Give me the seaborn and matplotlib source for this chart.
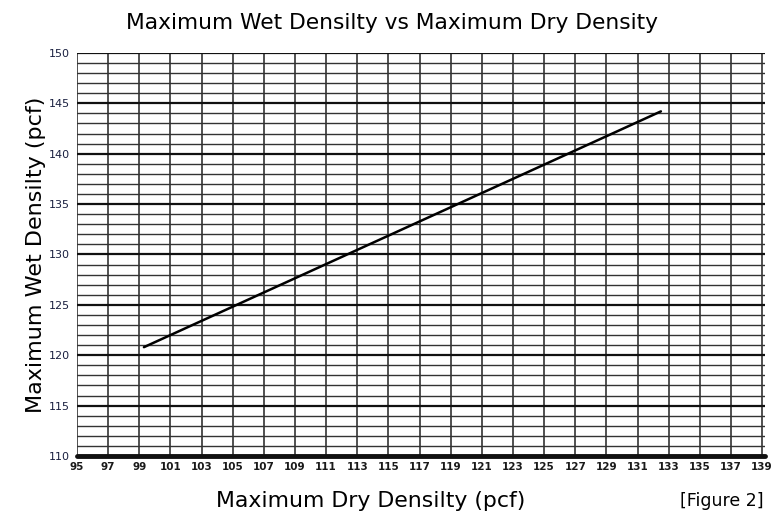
import matplotlib
matplotlib.use("Agg")
import matplotlib.pyplot as plt
import seaborn as sns
import numpy as np
import pandas as pd

dry_density = [99.3, 132.5]
wet_density = [120.8, 144.2]
x_ticks = list(range(95, 140, 2))
y_ticks = list(range(110, 151, 5))

sns.set_style("white")
plt.rcParams['font.family'] = ['DejaVu Sans']
plt.rcParams['text.color'] = 'black'
plt.rcParams['axes.labelcolor'] = 'black'

fig = plt.figure(figsize=(7.83, 5.19), dpi=100)
ax = fig.add_axes([0.0983, 0.1214, 0.879, 0.7766])

df = pd.DataFrame({"dry": dry_density, "wet": wet_density})

ax.set_xlim(95, 139.2)
ax.set_ylim(110, 150)

# grid lines
for v in x_ticks:
    ax.axvline(v, color="#222222", lw=1.1, zorder=1)
for h in range(110, 151):
    if h % 5 == 0:
        ax.axhline(h, color="#111111", lw=1.6, zorder=1)
    else:
        ax.axhline(h, color="#333333", lw=1.0, zorder=1)
ax.axhline(110, color="#111111", lw=3.5, zorder=2, clip_on=False)

sns.lineplot(data=df, x="dry", y="wet", ax=ax, color="black", lw=1.8, zorder=3)

ax.set_xticks(x_ticks)
ax.set_xticklabels([str(t) for t in x_ticks], fontsize=7.5, fontweight="bold", color="#1a1a1a")
ax.set_yticks(y_ticks)
ax.set_yticklabels([str(t) for t in y_ticks], fontsize=8, color="#1a2040")
ax.tick_params(axis="x", length=0, pad=4)
ax.tick_params(axis="y", length=4, width=1.2, color="#222222", pad=1)
for s in ax.spines.values():
    s.set_visible(False)

ax.set_xlabel("")
ax.set_ylabel("Maximum Wet Densilty (pcf)", fontsize=16, labelpad=2, color="black")
fig.text(0.5, 0.955, "Maximum Wet Densilty vs Maximum Dry Density", ha="center", va="center", fontsize=15.7, color="black")
fig.text(0.474, 0.035, "Maximum Dry Densilty (pcf)", ha="center", va="center", fontsize=15.8, color="black")
fig.text(0.922, 0.035, "[Figure 2]", ha="center", va="center", fontsize=12.5, color="black")

fig.savefig("out.png", dpi=100)
